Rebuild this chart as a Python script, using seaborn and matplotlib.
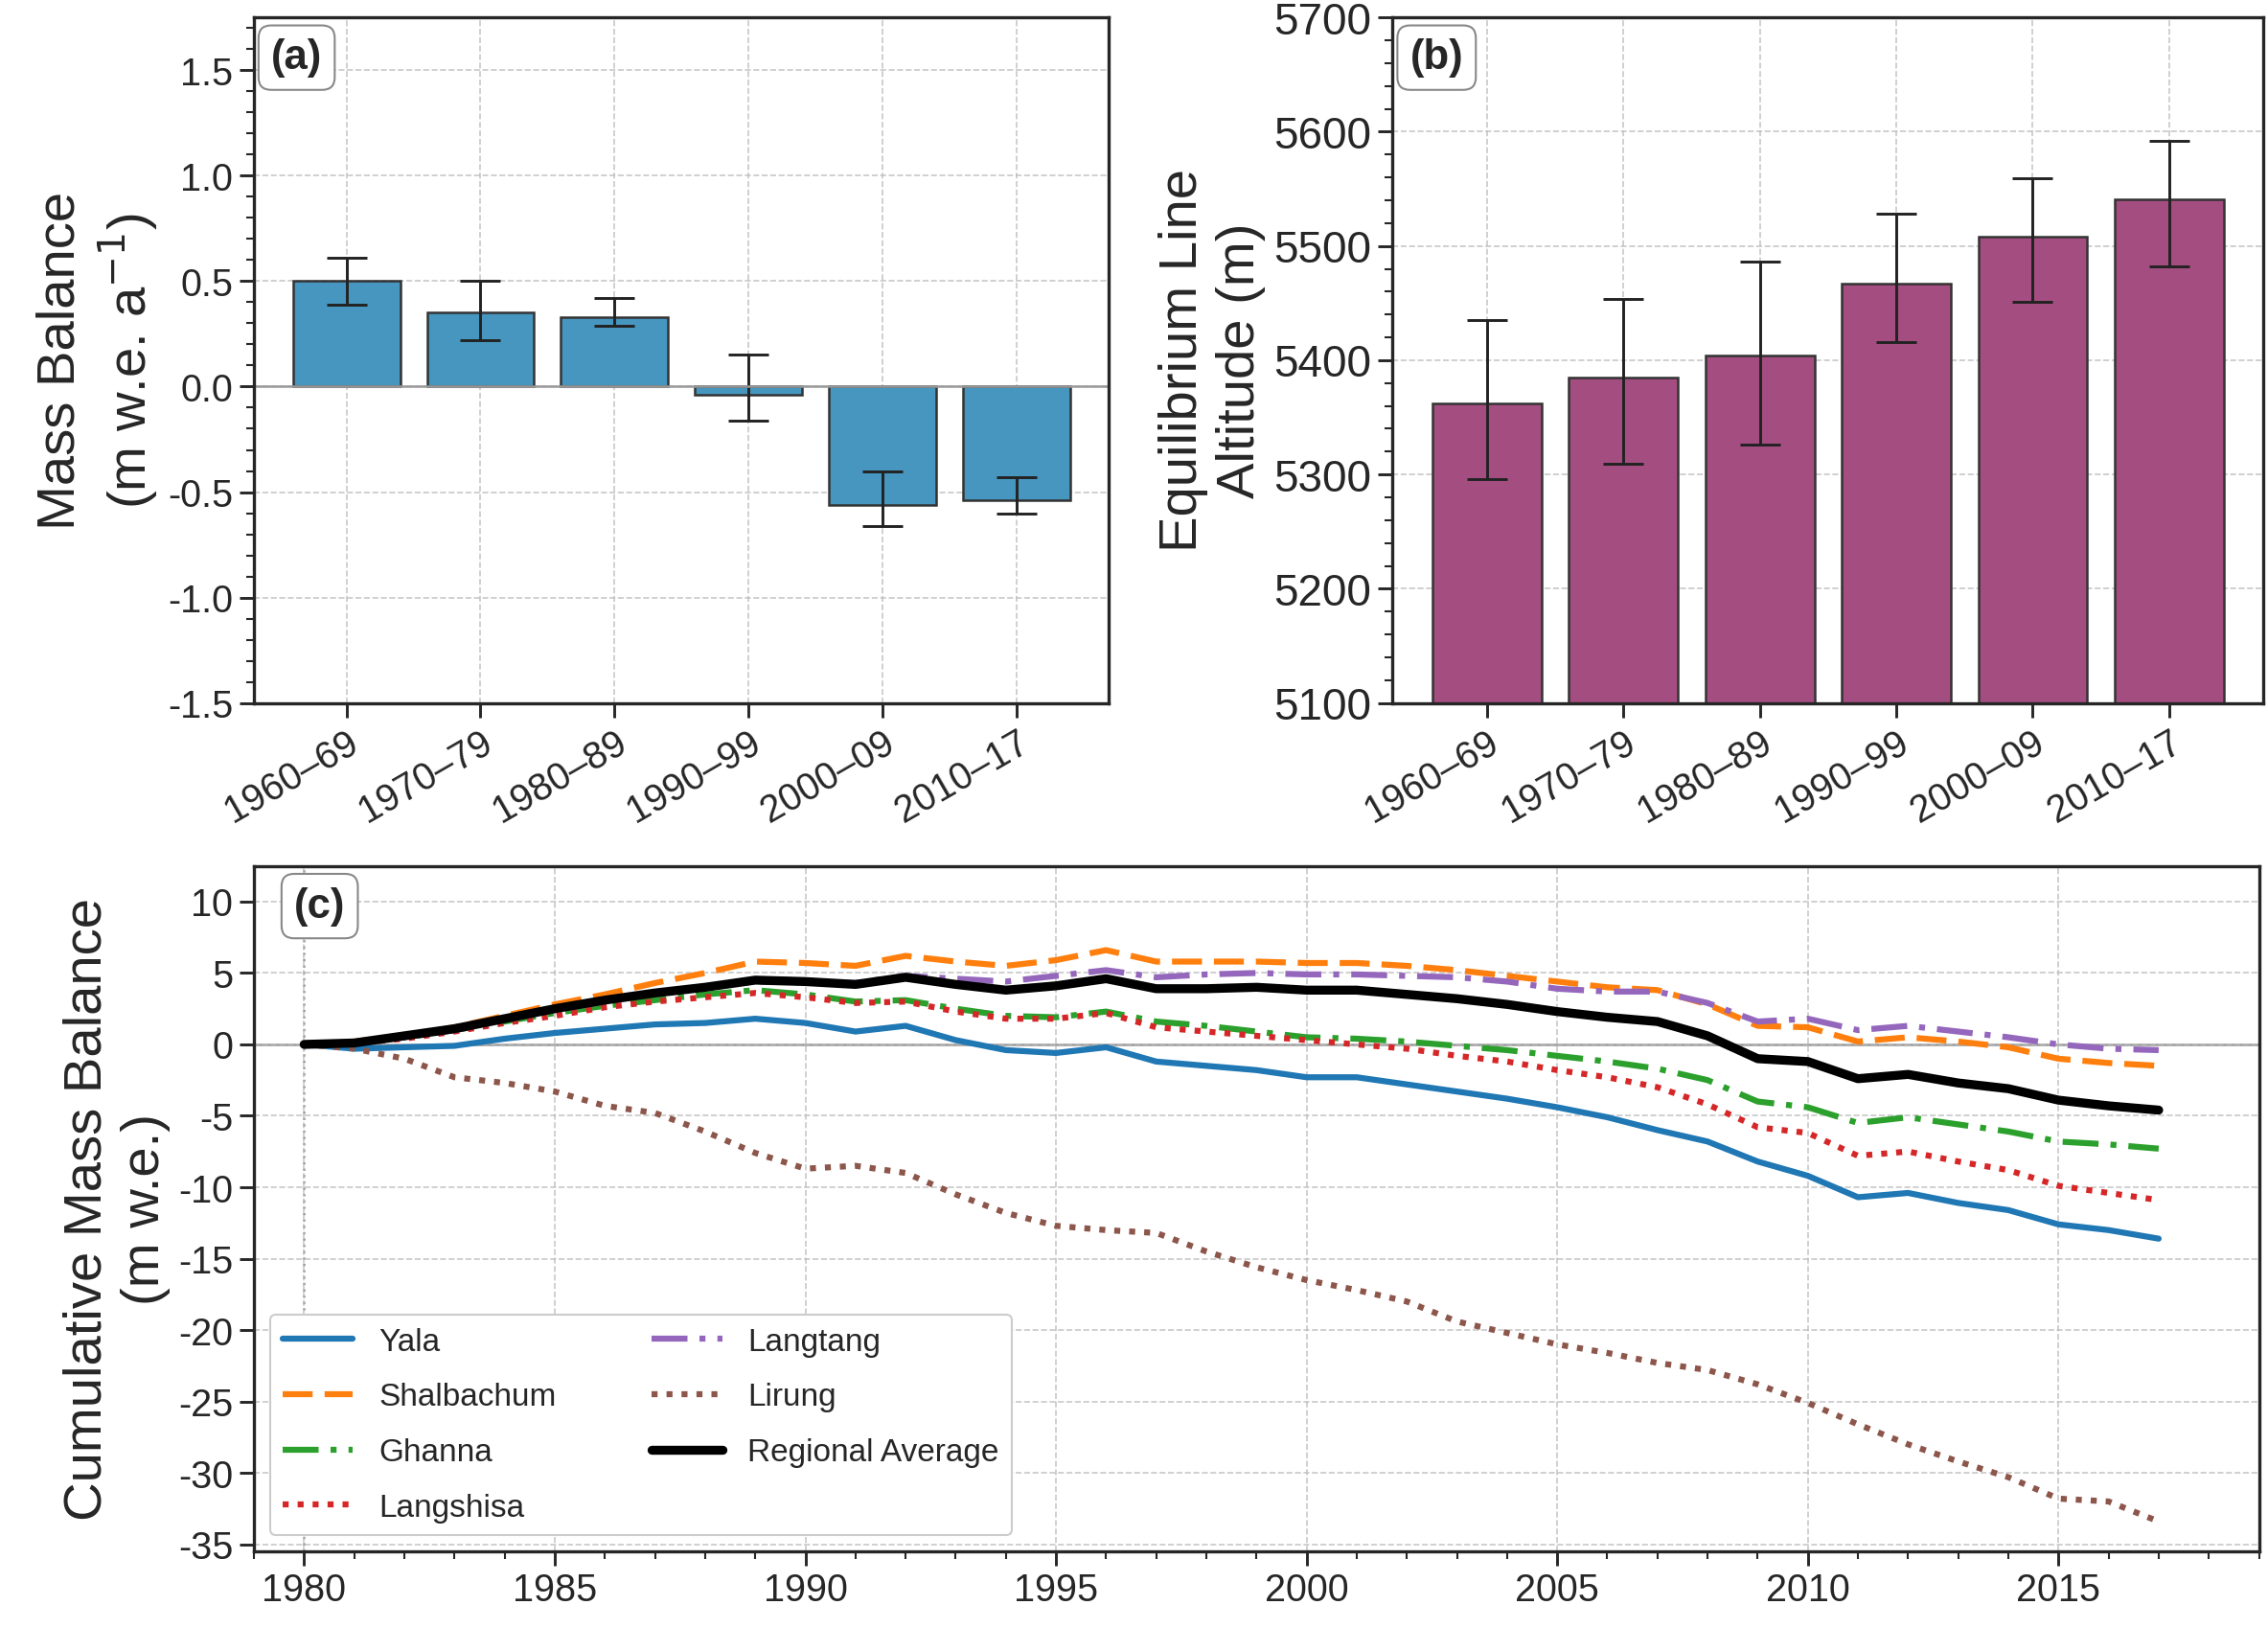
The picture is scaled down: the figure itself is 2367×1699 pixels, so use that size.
import numpy as np
import pandas as pd
import matplotlib
matplotlib.use("Agg")
import matplotlib.pyplot as plt
from matplotlib.ticker import AutoMinorLocator
import seaborn as sns

# ---- data ----
decades = ["1960–69", "1970–79", "1980–89", "1990–99", "2000–09", "2010–17"]
mb = [0.50, 0.35, 0.33, -0.04, -0.56, -0.54]
mb_lo = [0.39, 0.22, 0.29, -0.16, -0.66, -0.60]
mb_hi = [0.61, 0.50, 0.42, 0.15, -0.40, -0.43]
ela = [5362, 5385, 5404, 5467, 5508, 5541]
ela_lo = [5296, 5309, 5326, 5416, 5451, 5482]
ela_hi = [5435, 5454, 5486, 5528, 5559, 5592]

years = list(range(1980, 2018))
yala = [0, -0.3, -0.2, -0.1, 0.4, 0.8, 1.1, 1.4, 1.5, 1.8, 1.5, 0.9, 1.3, 0.3, -0.4, -0.6, -0.2, -1.2, -1.5,
        -1.8, -2.3, -2.3, -2.8, -3.3, -3.8, -4.4, -5.1, -6.0, -6.8, -8.2, -9.2, -10.7, -10.4, -11.1, -11.6,
        -12.6, -13.0, -13.6]
shalbachum = [0, 0.2, 0.6, 1.2, 2.0, 2.8, 3.5, 4.3, 5.0, 5.8, 5.7, 5.5, 6.2, 5.8, 5.5, 5.9, 6.6, 5.8, 5.8,
              5.8, 5.7, 5.7, 5.5, 5.2, 4.8, 4.4, 4.0, 3.8, 2.8, 1.3, 1.2, 0.2, 0.5, 0.2, -0.2, -1.0, -1.3, -1.5]
ghanna = [0, 0.1, 0.5, 1.0, 1.6, 2.2, 2.7, 3.1, 3.5, 3.8, 3.5, 3.0, 3.1, 2.5, 2.0, 1.9, 2.3, 1.6, 1.3, 0.9,
          0.5, 0.4, 0.2, -0.1, -0.4, -0.8, -1.2, -1.7, -2.5, -4.0, -4.4, -5.5, -5.1, -5.6, -6.1, -6.8, -7.0, -7.3]
langshisa = [0, 0.1, 0.4, 0.9, 1.5, 2.0, 2.6, 3.0, 3.3, 3.6, 3.3, 2.9, 3.0, 2.3, 1.8, 1.8, 2.2, 1.2, 0.9, 0.6,
             0.3, 0.0, -0.3, -0.8, -1.2, -1.8, -2.3, -3.0, -4.2, -5.8, -6.2, -7.8, -7.5, -8.2, -8.8, -9.9,
             -10.4, -10.9]
langtang = [0, 0.1, 0.5, 1.0, 1.7, 2.4, 3.0, 3.6, 4.0, 4.4, 4.4, 4.3, 4.8, 4.6, 4.4, 4.8, 5.2, 4.7, 4.9, 5.0,
            4.9, 4.9, 4.8, 4.7, 4.4, 3.9, 3.7, 3.7, 2.9, 1.6, 1.8, 1.0, 1.3, 0.9, 0.5, 0.0, -0.3, -0.4]
lirung = [0, -0.3, -1.0, -2.3, -2.7, -3.3, -4.3, -4.8, -6.1, -7.6, -8.7, -8.5, -9.0, -10.5, -11.8, -12.7, -13.0,
          -13.2, -14.5, -15.6, -16.5, -17.2, -18.0, -19.4, -20.2, -21.0, -21.6, -22.3, -22.8, -23.8, -25.1,
          -26.6, -28.0, -29.2, -30.3, -31.8, -32.0, -33.4]
regional = [0, 0.1, 0.6, 1.1, 1.8, 2.5, 3.1, 3.6, 4.0, 4.5, 4.4, 4.2, 4.7, 4.2, 3.8, 4.1, 4.6, 3.9, 3.9, 4.0,
            3.8, 3.8, 3.5, 3.2, 2.8, 2.3, 1.9, 1.6, 0.6, -1.0, -1.2, -2.4, -2.1, -2.7, -3.1, -3.9, -4.3, -4.6]

sns.set_theme(style="ticks")
plt.rcParams["font.family"] = ["Liberation Sans", "DejaVu Sans"]
plt.rcParams["axes.linewidth"] = 1.6
plt.rcParams["axes.unicode_minus"] = False

fig = plt.figure(figsize=(15.78, 11.33), dpi=150)
ax1 = fig.add_axes([0.112, 0.568, 0.377, 0.421])
ax2 = fig.add_axes([0.614, 0.568, 0.384, 0.421])
ax3 = fig.add_axes([0.112, 0.047, 0.884, 0.421])

grid_kw = dict(color="#bbbbbb", linestyle="--", linewidth=0.8, alpha=0.8)
box = dict(boxstyle="round,pad=0.3", facecolor="white", edgecolor="#888888", lw=1)


def style(ax, label):
    ax.grid(True, **grid_kw)
    ax.set_axisbelow(True)
    ax.tick_params(axis="both", which="major", labelsize=19, length=7, width=1.4)
    ax.tick_params(axis="both", which="minor", length=4, width=1)
    ax.text(0.02, 0.97, label, transform=ax.transAxes, fontsize=21, fontweight="bold",
            va="top", ha="left", bbox=box)


# (a)
df_a = pd.DataFrame({"decade": decades, "mb": mb})
sns.barplot(data=df_a, x="decade", y="mb", color="#4696bf", edgecolor="#333333", linewidth=1.2,
            saturation=1, ax=ax1)
xa = np.arange(len(decades))
ax1.errorbar(xa, mb, yerr=[np.array(mb) - np.array(mb_lo), np.array(mb_hi) - np.array(mb)],
             fmt="none", ecolor="#222222", elinewidth=1.4, capsize=10, capthick=1.4)
ax1.axhline(0, color="#999999", lw=1.2)
ax1.set_ylim(-1.5, 1.75)
ax1.set_yticks(np.arange(-1.5, 1.51, 0.5))
ax1.yaxis.set_minor_locator(AutoMinorLocator(5))
ax1.set_xlabel("")
ax1.set_ylabel("Mass Balance\n(m w.e. a$^{-1}$)", fontsize=27)
style(ax1, "(a)")
ax1.set_xticks(xa, decades, rotation=30, ha="right", rotation_mode="anchor")

# (b)
df_b = pd.DataFrame({"decade": decades, "ela": ela})
sns.barplot(data=df_b, x="decade", y="ela", color="#a44d80", edgecolor="#333333", linewidth=1.2,
            saturation=1, ax=ax2)
ax2.errorbar(xa, ela, yerr=[np.array(ela) - np.array(ela_lo), np.array(ela_hi) - np.array(ela)],
             fmt="none", ecolor="#222222", elinewidth=1.4, capsize=10, capthick=1.4)
ax2.set_ylim(5100, 5700)
ax2.yaxis.set_minor_locator(AutoMinorLocator(5))
ax2.set_xlabel("")
ax2.set_ylabel("Equilibrium Line\nAltitude (m)", fontsize=27)
style(ax2, "(b)")
ax2.tick_params(axis="y", labelsize=22)
ax2.set_xticks(xa, decades, rotation=30, ha="right", rotation_mode="anchor")

# (c)
series = [("Yala", yala, "tab:blue", "-", 3), ("Shalbachum", shalbachum, "tab:orange", (0, (5, 2)), 3),
          ("Ghanna", ghanna, "tab:green", (0, (6, 2, 1, 2)), 3), ("Langshisa", langshisa, "tab:red", (0, (1, 1.5)), 3),
          ("Langtang", langtang, "tab:purple", (0, (6, 2, 1, 2)), 3), ("Lirung", lirung, "tab:brown", (0, (1, 1.5)), 3),
          ("Regional Average", regional, "black", "-", 4.5)]
for name, vals, col, ls, lw in series:
    sns.lineplot(x=years, y=vals, color=col, linestyle=ls, linewidth=lw, label=name, ax=ax3)
ax3.axhline(0, color="#999999", lw=1.2, zorder=0)
ax3.axvline(1980, color="#999999", lw=1.2, linestyle=":", zorder=0)
ax3.set_xlim(1979, 2019)
ax3.set_ylim(-35.5, 12.5)
ax3.set_yticks(np.arange(-35, 11, 5))
ax3.xaxis.set_minor_locator(AutoMinorLocator(5))
ax3.set_ylabel("Cumulative Mass Balance\n(m w.e.)", fontsize=27)
style(ax3, "(c)")
ax3.legend(ncol=2, loc="lower left", fontsize=16, handlelength=2.2, columnspacing=3,
           framealpha=1, edgecolor="#cccccc", fancybox=True, labelspacing=0.8)

fig.savefig("out.png", dpi=150)
